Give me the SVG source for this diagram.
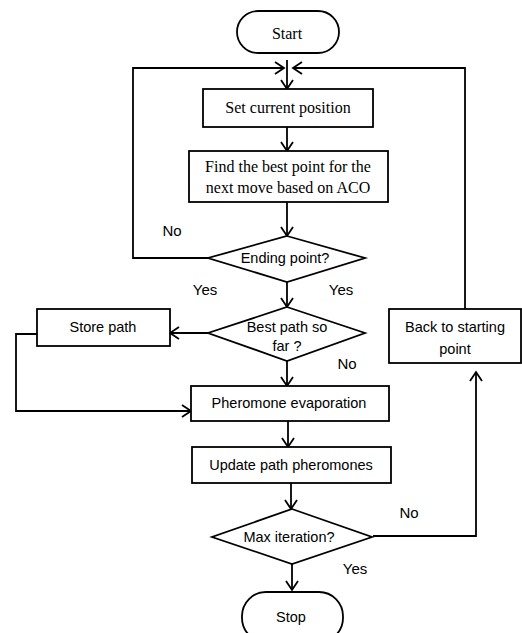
<svg xmlns="http://www.w3.org/2000/svg" width="522" height="633" viewBox="0 0 522 633">
<defs>
<marker id="arr" markerUnits="userSpaceOnUse" markerWidth="14" markerHeight="14" refX="12" refY="7" orient="auto">
<path d="M3,1 L12,7 L3,13" fill="none" stroke="#000" stroke-width="1.8"/>
</marker>
<style>
.sh{fill:#fff;stroke:#000;stroke-width:1.8}
.ln{fill:none;stroke:#000;stroke-width:1.8}
.serif{font-family:"Liberation Serif","Times New Roman",serif;font-size:16px;fill:#000;text-anchor:middle}
.sans{font-family:"Liberation Sans",Arial,sans-serif;font-size:14.5px;fill:#000;text-anchor:middle}
.lbl{font-family:"Liberation Sans",Arial,sans-serif;font-size:15px;fill:#000;text-anchor:middle}
</style>
</defs>
<rect width="522" height="633" fill="#fff"/>
<g id="connectors">
<path class="ln" d="M287,60 L287,89" marker-end="url(#arr)"/>
<path class="ln" d="M208,258 L133,258 L133,68 L284,68" marker-end="url(#arr)"/>
<path class="ln" d="M465,309 L465,68 L293,68" marker-end="url(#arr)"/>
<path class="ln" d="M287,127 L287,151" marker-end="url(#arr)"/>
<path class="ln" d="M287,202 L287,236" marker-end="url(#arr)"/>
<path class="ln" d="M287,282 L287,307" marker-end="url(#arr)"/>
<path class="ln" d="M208,333 L170,333" marker-end="url(#arr)"/>
<path class="ln" d="M37,334 L16,334 L16,411 L191,411" marker-end="url(#arr)"/>
<path class="ln" d="M287,361 L287,386" marker-end="url(#arr)"/>
<path class="ln" d="M288,421 L288,447" marker-end="url(#arr)"/>
<path class="ln" d="M291,483 L291,509" marker-end="url(#arr)"/>
<path class="ln" d="M373,536 L476,536 L476,372" marker-end="url(#arr)"/>
<path class="ln" d="M292,564 L292,590" marker-end="url(#arr)"/>
<text class="lbl" x="172" y="236">No</text>
<text class="lbl" x="205" y="295">Yes</text>
<text class="lbl" x="341" y="295">Yes</text>
<text class="lbl" x="347" y="369">No</text>
<text class="lbl" x="409" y="518">No</text>
<text class="lbl" x="355" y="574">Yes</text>
</g>
<g id="start">
<rect class="sh" x="237" y="11" width="102" height="42" rx="21"/>
<text class="serif" x="287" y="39">Start</text>
</g>
<g id="set-position">
<rect class="sh" x="203" y="89" width="170" height="38"/>
<text class="serif" x="288" y="113">Set current position</text>
</g>
<g id="find-best">
<rect class="sh" x="189" y="151" width="199" height="51"/>
<text class="serif" x="288" y="172">Find the best point for the</text>
<text class="serif" x="288" y="193">next move based on ACO</text>
</g>
<g id="ending-point">
<polygon class="sh" points="287,236 365,258 287,282 208,258"/>
<text class="sans" x="285" y="263">Ending point?</text>
</g>
<g id="best-path">
<polygon class="sh" points="287,307 365,333 287,361 208,333"/>
<text class="sans" x="287" y="332">Best path so</text>
<text class="sans" x="287" y="351">far ?</text>
</g>
<g id="store-path">
<rect class="sh" x="37" y="309" width="133" height="37"/>
<text class="sans" x="103" y="332">Store path</text>
</g>
<g id="back-to-start">
<rect class="sh" x="389" y="309" width="132" height="54"/>
<text class="sans" x="455" y="332">Back to starting</text>
<text class="sans" x="455" y="354">point</text>
</g>
<g id="evaporation">
<rect class="sh" x="191" y="386" width="198" height="35"/>
<text class="sans" x="289" y="408">Pheromone evaporation</text>
</g>
<g id="update">
<rect class="sh" x="192" y="447" width="199" height="36"/>
<text class="sans" x="291" y="470">Update path pheromones</text>
</g>
<g id="max-iteration">
<polygon class="sh" points="292,509 372,537 292,564 212,537"/>
<text class="sans" x="289" y="542">Max iteration?</text>
</g>
<g id="stop">
<rect class="sh" x="242" y="592" width="101" height="50" rx="24"/>
<text class="sans" x="291" y="622">Stop</text>
</g>
</svg>
